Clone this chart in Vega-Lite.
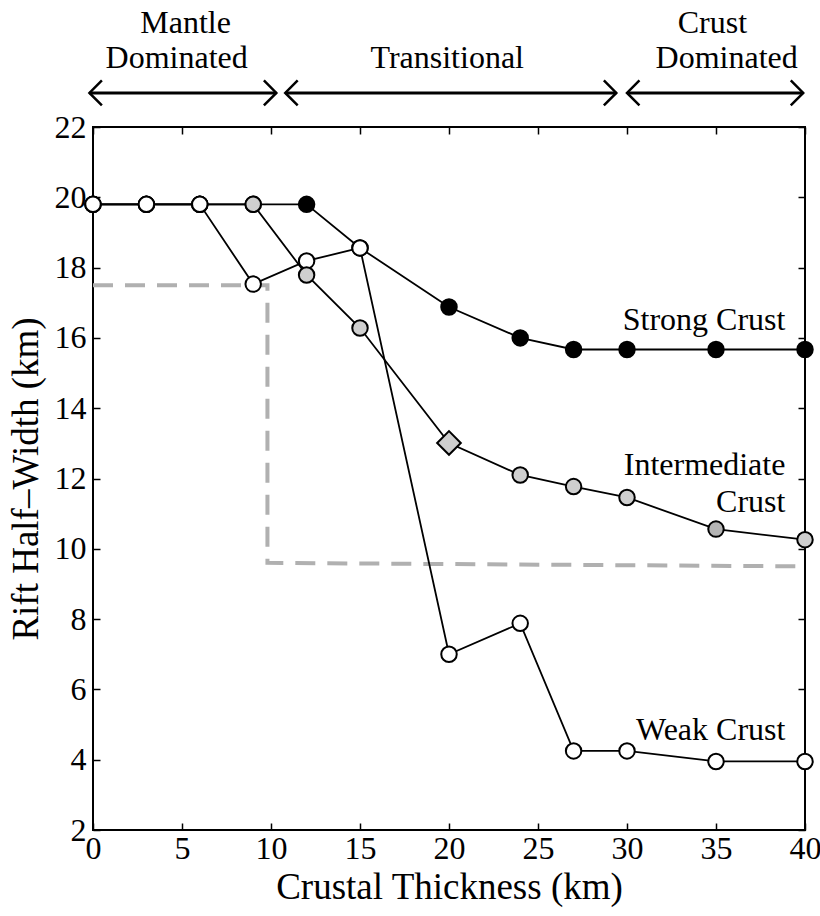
{
  "$schema": "https://vega.github.io/schema/vega-lite/v6.json",
  "width": 712,
  "height": 703,
  "autosize": {"type": "none"},
  "padding": {"left": 93, "top": 127, "right": 15, "bottom": 86},
  "background": "white",
  "config": {
    "font": "Liberation Serif",
    "view": {"stroke": "black", "strokeWidth": 2},
    "axis": {
      "domain": false,
      "grid": false,
      "labelFlush": false,
      "labelOverlap": false,
      "tickColor": "black",
      "tickWidth": 1.5,
      "tickSize": -7,
      "labelFont": "Liberation Serif",
      "labelFontSize": 32,
      "labelColor": "black",
      "titleFont": "Liberation Serif",
      "titleFontSize": 37,
      "titleFontWeight": "normal",
      "titleColor": "black"
    }
  },
  "datasets": {
    "series": [
      {"series": "Weak", "x": 0, "y": 19.8, "marker": "open"},
      {"series": "Weak", "x": 3, "y": 19.8, "marker": "open"},
      {"series": "Weak", "x": 6, "y": 19.8, "marker": "open"},
      {"series": "Weak", "x": 9, "y": 17.53, "marker": "open"},
      {"series": "Weak", "x": 12, "y": 18.19, "marker": "open"},
      {"series": "Weak", "x": 15, "y": 18.56, "marker": "open"},
      {"series": "Weak", "x": 20, "y": 7.0, "marker": "open"},
      {"series": "Weak", "x": 24, "y": 7.88, "marker": "open"},
      {"series": "Weak", "x": 27, "y": 4.25, "marker": "open"},
      {"series": "Weak", "x": 30, "y": 4.25, "marker": "open"},
      {"series": "Weak", "x": 35, "y": 3.95, "marker": "open"},
      {"series": "Weak", "x": 40, "y": 3.95, "marker": "open"},
      {"series": "Strong", "x": 0, "y": 19.8, "marker": "open"},
      {"series": "Strong", "x": 3, "y": 19.8, "marker": "open"},
      {"series": "Strong", "x": 6, "y": 19.8, "marker": "open"},
      {"series": "Strong", "x": 9, "y": 19.8, "marker": "gray"},
      {"series": "Strong", "x": 12, "y": 19.8, "marker": "black"},
      {"series": "Strong", "x": 15, "y": 18.56, "marker": "open"},
      {"series": "Strong", "x": 20, "y": 16.88, "marker": "black"},
      {"series": "Strong", "x": 24, "y": 16.0, "marker": "black"},
      {"series": "Strong", "x": 27, "y": 15.67, "marker": "black"},
      {"series": "Strong", "x": 30, "y": 15.67, "marker": "black"},
      {"series": "Strong", "x": 35, "y": 15.67, "marker": "black"},
      {"series": "Strong", "x": 40, "y": 15.67, "marker": "black"},
      {"series": "Intermediate", "x": 0, "y": 19.8, "marker": "open"},
      {"series": "Intermediate", "x": 3, "y": 19.8, "marker": "open"},
      {"series": "Intermediate", "x": 6, "y": 19.8, "marker": "open"},
      {"series": "Intermediate", "x": 9, "y": 19.8, "marker": "gray"},
      {"series": "Intermediate", "x": 12, "y": 17.79, "marker": "gray"},
      {"series": "Intermediate", "x": 15, "y": 16.28, "marker": "gray"},
      {"series": "Intermediate", "x": 20, "y": 13.01, "marker": "diamond"},
      {"series": "Intermediate", "x": 24, "y": 12.1, "marker": "gray"},
      {"series": "Intermediate", "x": 27, "y": 11.77, "marker": "gray"},
      {"series": "Intermediate", "x": 30, "y": 11.46, "marker": "gray"},
      {"series": "Intermediate", "x": 35, "y": 10.56, "marker": "solidgray"},
      {"series": "Intermediate", "x": 40, "y": 10.26, "marker": "gray"}
    ],
    "dashed": [
      {"ord": 1, "x": 0, "y": 17.5},
      {"ord": 2, "x": 9.8, "y": 17.5},
      {"ord": 3, "x": 9.8, "y": 9.6},
      {"ord": 4, "x": 40, "y": 9.5}
    ],
    "arrows": [
      {"region": "Mantle", "x1": -0.2, "x2": 10.3, "y": 22.97},
      {"region": "Transitional", "x1": 10.8, "x2": 29.4, "y": 22.97},
      {"region": "Crust", "x1": 30.0, "x2": 39.9, "y": 22.97}
    ],
    "notes": [
      {"text": "Mantle", "x": 5.2, "y": 24.95},
      {"text": "Dominated", "x": 4.7, "y": 23.95},
      {"text": "Transitional", "x": 19.9, "y": 23.95},
      {"text": "Crust", "x": 34.8, "y": 24.95},
      {"text": "Dominated", "x": 35.6, "y": 23.95}
    ],
    "labels": [
      {"text": "Strong Crust", "x": 38.9, "y": 16.5},
      {"text": "Intermediate", "x": 38.9, "y": 12.38},
      {"text": "Crust", "x": 38.9, "y": 11.33},
      {"text": "Weak Crust", "x": 38.9, "y": 4.85}
    ]
  },
  "layer": [
    {
      "data": {"name": "dashed"},
      "mark": {"type": "line", "color": "#b0b0b0", "strokeWidth": 4, "strokeDash": [20, 12]},
      "encoding": {
        "x": {"field": "x", "type": "quantitative", "scale": {"domain": [0, 40], "nice": false, "zero": false},
              "axis": {"orient": "top", "labels": false, "title": null, "values": [0, 5, 10, 15, 20, 25, 30, 35, 40]}},
        "y": {"field": "y", "type": "quantitative", "scale": {"domain": [2, 22], "nice": false, "zero": false},
              "axis": {"orient": "right", "labels": false, "title": null, "values": [2, 4, 6, 8, 10, 12, 14, 16, 18, 20, 22]}},
        "order": {"field": "ord", "type": "quantitative"}
      }
    },
    {
      "data": {"name": "series"},
      "mark": {"type": "line", "color": "black", "strokeWidth": 1.8},
      "encoding": {
        "x": {"field": "x", "type": "quantitative",
              "axis": {"orient": "bottom", "title": "Crustal Thickness (km)", "values": [0, 5, 10, 15, 20, 25, 30, 35, 40], "labelPadding": 10, "titlePadding": 5}},
        "y": {"field": "y", "type": "quantitative",
              "axis": {"orient": "left", "title": "Rift Half–Width (km)", "values": [2, 4, 6, 8, 10, 12, 14, 16, 18, 20, 22], "labelPadding": 14, "titlePadding": 9}},
        "detail": {"field": "series", "type": "nominal"}
      }
    },
    {
      "data": {"name": "series"},
      "transform": [{"filter": "datum.marker !== 'diamond'"}],
      "mark": {"type": "point", "filled": true, "shape": "circle", "size": 240, "stroke": "black", "strokeWidth": 2, "opacity": 1},
      "encoding": {
        "x": {"field": "x", "type": "quantitative", "axis": null},
        "y": {"field": "y", "type": "quantitative", "axis": null},
        "fill": {"field": "marker", "type": "nominal", "legend": null,
                 "scale": {"domain": ["open", "gray", "black", "solidgray", "diamond"], "range": ["white", "#cfcfcf", "black", "#b4b4b4", "#cfcfcf"]}}
      }
    },
    {
      "data": {"name": "series"},
      "transform": [{"filter": "datum.marker === 'diamond'"}],
      "mark": {"type": "point", "filled": true, "shape": "diamond", "size": 560, "stroke": "black", "strokeWidth": 2, "opacity": 1},
      "encoding": {
        "x": {"field": "x", "type": "quantitative", "axis": null},
        "y": {"field": "y", "type": "quantitative", "axis": null},
        "fill": {"field": "marker", "type": "nominal", "legend": null}
      }
    },
    {
      "data": {"name": "labels"},
      "mark": {"type": "text", "align": "right", "baseline": "middle", "font": "Liberation Serif", "fontSize": 32, "color": "black"},
      "encoding": {
        "x": {"field": "x", "type": "quantitative", "axis": null},
        "y": {"field": "y", "type": "quantitative", "axis": null},
        "text": {"field": "text", "type": "nominal"}
      }
    },
    {
      "data": {"name": "notes"},
      "mark": {"type": "text", "align": "center", "baseline": "middle", "font": "Liberation Serif", "fontSize": 32, "color": "black"},
      "encoding": {
        "x": {"field": "x", "type": "quantitative", "axis": null},
        "y": {"field": "y", "type": "quantitative", "axis": null},
        "text": {"field": "text", "type": "nominal"}
      }
    },
    {
      "data": {"name": "arrows"},
      "mark": {"type": "rule", "color": "black", "strokeWidth": 3},
      "encoding": {
        "x": {"field": "x1", "type": "quantitative", "axis": null},
        "x2": {"field": "x2"},
        "y": {"field": "y", "type": "quantitative", "axis": null}
      }
    },
    {
      "data": {"name": "arrows"},
      "mark": {"type": "point", "filled": false, "shape": "M1,-1L0,0L1,1", "size": 620, "color": "black", "strokeWidth": 2.5, "opacity": 1},
      "encoding": {
        "x": {"field": "x1", "type": "quantitative", "axis": null},
        "y": {"field": "y", "type": "quantitative", "axis": null}
      }
    },
    {
      "data": {"name": "arrows"},
      "mark": {"type": "point", "filled": false, "shape": "M-1,-1L0,0L-1,1", "size": 620, "color": "black", "strokeWidth": 2.5, "opacity": 1},
      "encoding": {
        "x": {"field": "x2", "type": "quantitative", "axis": null},
        "y": {"field": "y", "type": "quantitative", "axis": null}
      }
    }
  ],
  "resolve": {"axis": {"x": "independent", "y": "independent"}}
}
